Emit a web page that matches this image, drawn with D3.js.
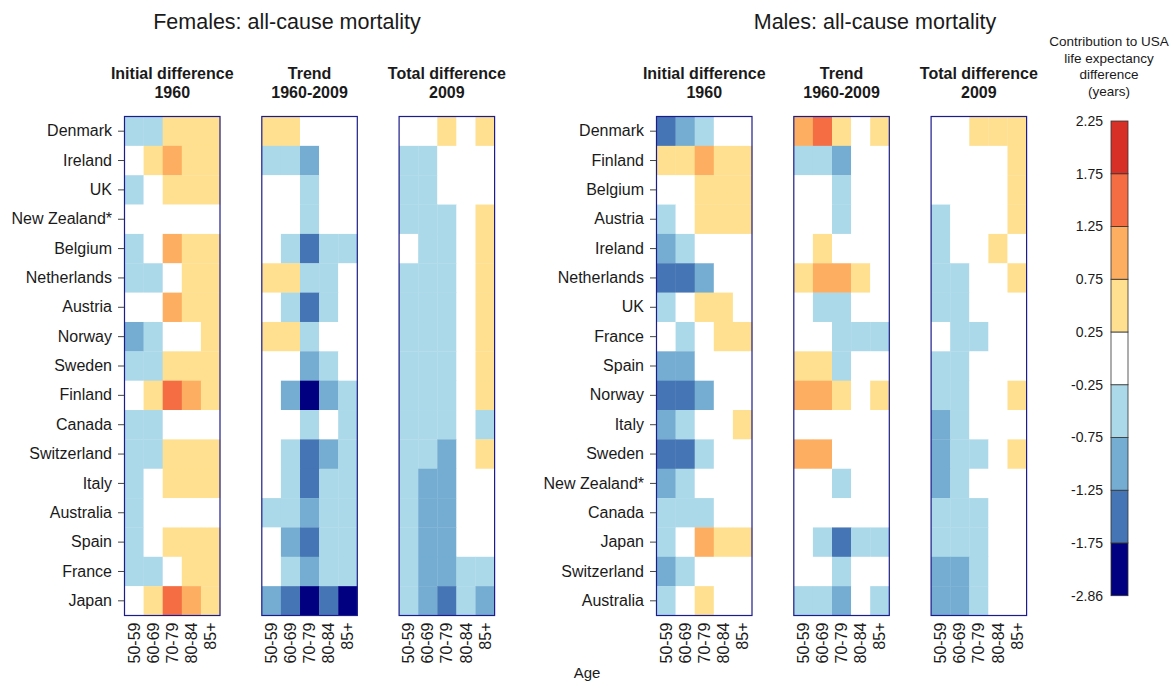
<!DOCTYPE html>
<html>
<head>
<meta charset="utf-8">
<script src="https://cdn.jsdelivr.net/npm/d3@7"></script>
<style>
body { margin: 0; background: #fff; }
text { font-family: Arial, "Liberation Sans", sans-serif; fill: #1a1a1a; }
</style>
</head>
<body>
<svg width="1175" height="683"></svg>
<script>
// age groups (columns) and countries (rows)
const ages = ["50-59", "60-69", "70-79", "80-84", "85+"];

const femaleCountries = ["Denmark", "Ireland", "UK", "New Zealand*", "Belgium", "Netherlands", "Austria",
    "Norway", "Sweden", "Finland", "Canada", "Switzerland", "Italy", "Australia", "Spain", "France", "Japan"];
const maleCountries = ["Denmark", "Finland", "Belgium", "Austria", "Ireland", "Netherlands", "UK", "France",
    "Spain", "Norway", "Italy", "Sweden", "New Zealand*", "Canada", "Japan", "Switzerland", "Australia"];

// contributions (years), one row per country, one value per age group
const femaleInitial = [
    [-0.5, -0.5, 0.5, 0.5, 0.5],
    [0, 0.5, 1.0, 0.5, 0.5],
    [-0.5, 0, 0.5, 0.5, 0.5],
    [0, 0, 0, 0, 0],
    [-0.5, 0, 1.0, 0.5, 0.5],
    [-0.5, -0.5, 0, 0.5, 0.5],
    [0, 0, 1.0, 0.5, 0.5],
    [-1.0, -0.5, 0, 0, 0.5],
    [-0.5, -0.5, 0.5, 0.5, 0.5],
    [0, 0.5, 1.5, 1.0, 0.5],
    [-0.5, -0.5, 0, 0, 0],
    [-0.5, -0.5, 0.5, 0.5, 0.5],
    [-0.5, 0, 0.5, 0.5, 0.5],
    [-0.5, 0, 0, 0, 0],
    [-0.5, 0, 0.5, 0.5, 0.5],
    [-0.5, -0.5, 0, 0.5, 0.5],
    [0, 0.5, 1.5, 1.0, 0.5]
];
const femaleTrend = [
    [0.5, 0.5, 0, 0, 0],
    [-0.5, -0.5, -1.0, 0, 0],
    [0, 0, -0.5, 0, 0],
    [0, 0, -0.5, 0, 0],
    [0, -0.5, -1.5, -0.5, -0.5],
    [0.5, 0.5, -0.5, -0.5, 0],
    [0, -0.5, -1.5, -0.5, 0],
    [0.5, 0.5, -0.5, 0, 0],
    [0, 0, -1.0, -0.5, 0],
    [0, -1.0, -2.2, -1.0, -0.5],
    [0, 0, -0.5, 0, -0.5],
    [0, -0.5, -1.5, -1.0, -0.5],
    [0, -0.5, -1.5, -0.5, -0.5],
    [-0.5, -0.5, -1.0, -0.5, -0.5],
    [0, -1.0, -1.5, -0.5, -0.5],
    [0, -0.5, -1.0, -0.5, -0.5],
    [-1.0, -1.5, -2.2, -1.5, -2.2]
];
const femaleTotal = [
    [0, 0, 0.5, 0, 0.5],
    [-0.5, -0.5, 0, 0, 0],
    [-0.5, -0.5, 0, 0, 0],
    [-0.5, -0.5, -0.5, 0, 0.5],
    [0, -0.5, -0.5, 0, 0.5],
    [-0.5, -0.5, -0.5, 0, 0.5],
    [-0.5, -0.5, -0.5, 0, 0.5],
    [-0.5, -0.5, -0.5, 0, 0.5],
    [-0.5, -0.5, -0.5, 0, 0.5],
    [-0.5, -0.5, -0.5, 0, 0.5],
    [-0.5, -0.5, -0.5, 0, -0.5],
    [-0.5, -0.5, -1.0, 0, 0.5],
    [-0.5, -1.0, -1.0, 0, 0],
    [-0.5, -1.0, -1.0, 0, 0],
    [-0.5, -1.0, -1.0, 0, 0],
    [-0.5, -1.0, -1.0, -0.5, -0.5],
    [-0.5, -1.0, -1.5, -0.5, -1.0]
];
const maleInitial = [
    [-1.5, -1.0, -0.5, 0, 0],
    [0.5, 0.5, 1.0, 0.5, 0.5],
    [0, 0, 0.5, 0.5, 0.5],
    [-0.5, 0, 0.5, 0.5, 0.5],
    [-1.0, -0.5, 0, 0, 0],
    [-1.5, -1.5, -1.0, 0, 0],
    [-0.5, 0, 0.5, 0.5, 0],
    [0, -0.5, 0, 0.5, 0.5],
    [-1.0, -1.0, 0, 0, 0],
    [-1.5, -1.5, -1.0, 0, 0],
    [-1.0, -0.5, 0, 0, 0.5],
    [-1.5, -1.5, -0.5, 0, 0],
    [-1.0, -0.5, 0, 0, 0],
    [-0.5, -0.5, -0.5, 0, 0],
    [-0.5, 0, 1.0, 0.5, 0.5],
    [-1.0, -0.5, 0, 0, 0],
    [-0.5, 0, 0.5, 0, 0]
];
const maleTrend = [
    [1.0, 1.5, 0.5, 0, 0.5],
    [-0.5, -0.5, -1.0, 0, 0],
    [0, 0, -0.5, 0, 0],
    [0, 0, -0.5, 0, 0],
    [0, 0.5, 0, 0, 0],
    [0.5, 1.0, 1.0, 0.5, 0],
    [0, -0.5, -0.5, 0, 0],
    [0, 0, -0.5, -0.5, -0.5],
    [0.5, 0.5, -0.5, 0, 0],
    [1.0, 1.0, 0.5, 0, 0.5],
    [0, 0, 0, 0, 0],
    [1.0, 1.0, 0, 0, 0],
    [0, 0, -0.5, 0, 0],
    [0, 0, 0, 0, 0],
    [0, -0.5, -1.5, -0.5, -0.5],
    [0, 0, -0.5, 0, 0],
    [-0.5, -0.5, -1.0, 0, -0.5]
];
const maleTotal = [
    [0, 0, 0.5, 0.5, 0.5],
    [0, 0, 0, 0, 0.5],
    [0, 0, 0, 0, 0.5],
    [-0.5, 0, 0, 0, 0.5],
    [-0.5, 0, 0, 0.5, 0],
    [-0.5, -0.5, 0, 0, 0.5],
    [-0.5, -0.5, 0, 0, 0],
    [0, -0.5, -0.5, 0, 0],
    [-0.5, -0.5, 0, 0, 0],
    [-0.5, -0.5, 0, 0, 0.5],
    [-1.0, -0.5, 0, 0, 0],
    [-1.0, -0.5, -0.5, 0, 0.5],
    [-1.0, -0.5, 0, 0, 0],
    [-0.5, -0.5, -0.5, 0, 0],
    [-0.5, -0.5, -0.5, 0, 0],
    [-1.0, -1.0, -0.5, 0, 0],
    [-1.0, -1.0, -0.5, 0, 0]
];

const panelTitles = [["Initial difference", "1960"], ["Trend", "1960-2009"], ["Total difference", "2009"]];

// colour bins
const breaks = [-1.75, -1.25, -0.75, -0.25, 0.25, 0.75, 1.25, 1.75];
const binColors = ["#000080", "#4575b4", "#74add1", "#abd9e9", "#ffffff", "#fee090", "#fdae61", "#f46d43", "#d73027"];
const legendLabels = ["-2.86", "-1.75", "-1.25", "-0.75", "-0.25", "0.25", "0.75", "1.25", "1.75", "2.25"];

const color = d3.scaleThreshold().domain(breaks).range(binColors);

const plotTop = 116.5;
const plotBottom = 615.5;
const panelWidth = 95.5;
const panelStep = 137.3;

const svg = d3.select('svg');

const groups = [
    { title: "Females: all-cause mortality", titleX: 287, x0: 124.5, countries: femaleCountries, panels: [femaleInitial, femaleTrend, femaleTotal] },
    { title: "Males: all-cause mortality", titleX: 875, x0: 656.5, countries: maleCountries, panels: [maleInitial, maleTrend, maleTotal] }
];

groups.forEach((grp) => {
    const yScale = d3.scaleBand()
        .domain(grp.countries)
        .range([plotTop, plotBottom]);

    svg.append('text')
        .attr('x', grp.titleX)
        .attr('y', 29)
        .attr('text-anchor', 'middle')
        .style('font-size', '21.5px')
        .text(grp.title);

    grp.panels.forEach((values, p) => {
        const left = grp.x0 + p * panelStep;
        const xScale = d3.scaleBand()
            .domain(ages)
            .range([left, left + panelWidth]);

        const head = svg.append('text')
            .attr('text-anchor', 'middle')
            .style('font-size', '16px')
            .style('font-weight', 'bold');
        panelTitles[p].forEach((line, i) => {
            head.append('tspan')
                .attr('x', left + panelWidth / 2)
                .attr('y', 79 + i * 19)
                .text(line);
        });

        const cells = [];
        values.forEach((row, r) => row.forEach((v, c) => {
            cells.push({ country: grp.countries[r], age: ages[c], value: v });
        }));

        svg.append('g')
            .selectAll('rect')
            .data(cells)
            .enter()
            .append('rect')
            .attr('x', (d) => xScale(d.age))
            .attr('y', (d) => yScale(d.country))
            .attr('width', xScale.bandwidth() + 0.3)
            .attr('height', yScale.bandwidth() + 0.3)
            .attr('fill', (d) => color(d.value));

        svg.append('rect')
            .attr('x', left)
            .attr('y', plotTop)
            .attr('width', panelWidth)
            .attr('height', plotBottom - plotTop)
            .attr('fill', 'none')
            .attr('stroke', '#1c1c8a')
            .attr('stroke-width', 1.2);

        // rotated age labels
        const xAxis = svg.append('g')
            .attr('transform', `translate(0, ${plotBottom})`)
            .call(d3.axisBottom(xScale).tickSize(0));
        xAxis.select('.domain').remove();
        xAxis.selectAll('text')
            .attr('x', -7)
            .attr('y', 0)
            .attr('dy', '0.35em')
            .attr('transform', 'rotate(-90)')
            .style('text-anchor', 'end')
            .style('font-size', '16px')
            .attr('fill', '#1a1a1a');

        if (p === 0) {
            const yAxis = svg.append('g')
                .attr('transform', `translate(${left - 0.5}, 0)`)
                .call(d3.axisLeft(yScale).tickSize(6).tickPadding(6));
            yAxis.select('.domain').remove();
            yAxis.selectAll('line').attr('stroke', '#444');
            yAxis.selectAll('text')
                .style('font-size', '16px')
                .attr('fill', '#1a1a1a');
        }
    });
});

svg.append('text')
    .attr('x', 587)
    .attr('y', 678)
    .attr('text-anchor', 'middle')
    .style('font-size', '15px')
    .text('Age');

// legend
const legendY = d3.scaleLinear().domain([0, binColors.length]).range([595.7, 121]);
const legendX = 1111;
const legend = svg.append('g');

legend.selectAll('rect')
    .data(binColors)
    .enter()
    .append('rect')
    .attr('x', legendX)
    .attr('y', (d, i) => legendY(i + 1))
    .attr('width', 17)
    .attr('height', (d, i) => legendY(i) - legendY(i + 1))
    .attr('fill', (d) => d)
    .attr('stroke', '#333')
    .attr('stroke-width', 0.8);

legend.selectAll('text.tick')
    .data(legendLabels)
    .enter()
    .append('text')
    .attr('class', 'tick')
    .attr('x', legendX - 8)
    .attr('y', (d, i) => legendY(i))
    .attr('dy', '0.35em')
    .attr('text-anchor', 'end')
    .style('font-size', '14px')
    .text((d) => d);

const legendTitle = svg.append('text')
    .attr('text-anchor', 'middle')
    .style('font-size', '13.5px');
["Contribution to USA", "life expectancy", "difference", "(years)"].forEach((line, i) => {
    legendTitle.append('tspan')
        .attr('x', 1109)
        .attr('y', 46 + i * 16.5)
        .text(line);
});
</script>
</body>
</html>
